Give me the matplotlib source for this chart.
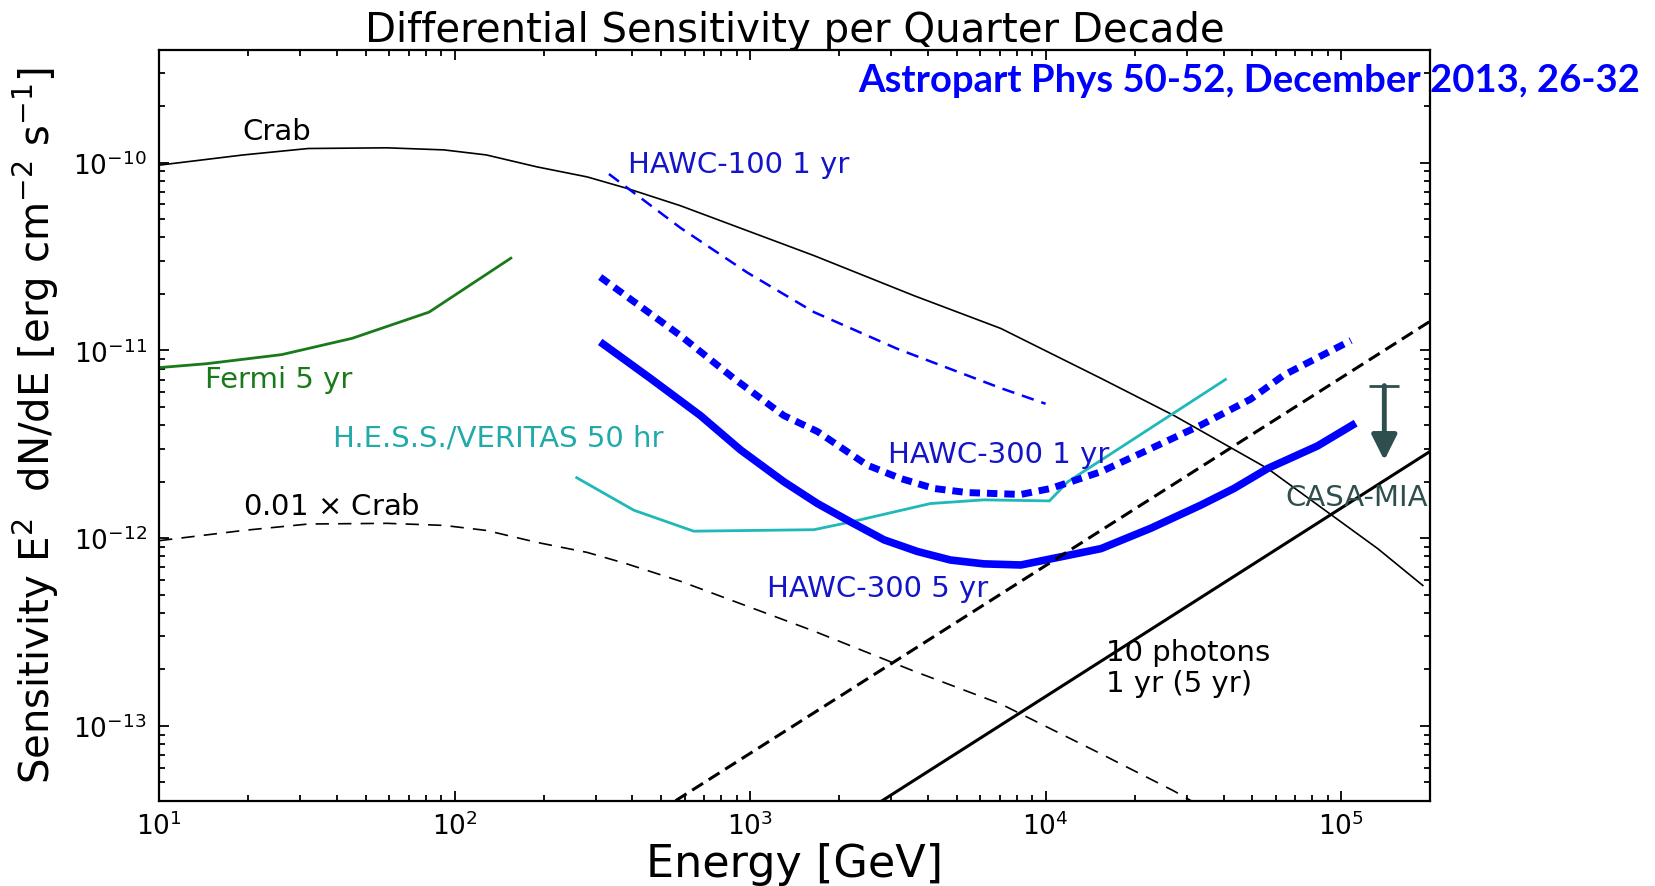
import matplotlib
matplotlib.use('Agg')
import matplotlib.pyplot as plt

# Crab spectrum (E in GeV, E^2 dN/dE in erg cm^-2 s^-1)
crab_E = [10, 19.3, 32, 59, 92, 128, 190, 281, 383, 581, 1645, 3580, 7050,
          15400, 27200, 56400, 133000, 189000]
crab_S = [9.7e-11, 1.10e-10, 1.19e-10, 1.20e-10, 1.17e-10, 1.10e-10, 9.5e-11,
          8.4e-11, 7.3e-11, 5.9e-11, 3.2e-11, 1.96e-11, 1.31e-11, 7.1e-12,
          4.5e-12, 2.35e-12, 8.8e-13, 5.6e-13]
crab01_S = [9.7e-13, 1.10e-12, 1.19e-12, 1.20e-12, 1.17e-12, 1.10e-12, 9.5e-13,
            8.4e-13, 7.3e-13, 5.9e-13, 3.2e-13, 1.96e-13, 1.31e-13, 7.1e-14,
            4.5e-14, 2.35e-14, 8.8e-15, 5.6e-15]

fermi_E = [10, 14.5, 26, 45, 82, 155]
fermi_S = [8.1e-12, 8.5e-12, 9.5e-12, 1.16e-11, 1.6e-11, 3.1e-11]

hess_E = [259, 404, 644, 1645, 2190, 4080, 6180, 10300, 11900, 40600]
hess_S = [2.1e-12, 1.41e-12, 1.09e-12, 1.11e-12, 1.22e-12, 1.53e-12, 1.6e-12,
          1.58e-12, 2.0e-12, 7.0e-12]

h100_E = [333, 581, 978, 1645, 3150, 7050, 10000]
h100_S = [8.7e-11, 4.5e-11, 2.6e-11, 1.6e-11, 1.02e-11, 6.3e-12, 5.2e-12]

h300_1_E = [311, 581, 881, 1300, 1690, 2490, 3230, 4190, 5430, 8250, 10400,
            15400, 22700, 33500, 49400, 64100, 108000]
h300_1_S = [2.46e-11, 1.2e-11, 7.1e-12, 4.5e-12, 3.7e-12, 2.45e-12, 2.08e-12,
            1.84e-12, 1.75e-12, 1.71e-12, 1.84e-12, 2.26e-12, 3.0e-12, 4.0e-12,
            5.5e-12, 7.4e-12, 1.13e-11]

h300_5_E = [311, 460, 679, 929, 1300, 1690, 2190, 2840, 3680, 4770, 6180, 8250,
            15400, 22700, 33500, 43400, 56400, 83200, 112000]
h300_5_S = [1.11e-11, 7.1e-12, 4.5e-12, 2.95e-12, 2.0e-12, 1.53e-12, 1.22e-12,
            9.8e-13, 8.5e-13, 7.65e-13, 7.3e-13, 7.2e-13, 8.8e-13, 1.13e-12,
            1.5e-12, 1.84e-12, 2.35e-12, 3.1e-12, 4.1e-12]

# 10 photons lines
ph5_E = [560, 2.0e5]
ph5_S = [4.0e-14, 1.43e-11]
ph1_E = [2800, 2.0e5]
ph1_S = [4.0e-14, 2.9e-12]

# CASA-MIA upper limit
casa_E = 1.4e5
casa_top = 6.5e-12
casa_tip = 2.6e-12

x_ticks = [1e1, 1e2, 1e3, 1e4, 1e5]
y_ticks = [1e-13, 1e-12, 1e-11, 1e-10]

fig = plt.figure(figsize=(16.55, 8.87), dpi=100)
ax = fig.add_axes([0.0961, 0.0962, 0.768, 0.8467])

ax.plot(crab_E, crab_S, color='k', lw=1.2)
ax.plot(crab_E, crab01_S, color='k', lw=1.2, ls=(0, (8, 5.5)))
ax.plot(fermi_E, fermi_S, color='#1a7a1a', lw=2)
ax.plot(hess_E, hess_S, color='#20b8b8', lw=2)
ax.plot(h100_E, h100_S, color='blue', lw=1.8, ls=(0, (5, 3.2)))
ax.plot(h300_1_E, h300_1_S, color='blue', lw=5, ls=(0, (1.5, 1.0)))
ax.plot(h300_5_E, h300_5_S, color='blue', lw=5.5, solid_capstyle='butt')
ax.plot(ph5_E, ph5_S, color='k', lw=2.2, ls=(0, (4.2, 2.2)))
ax.plot(ph1_E, ph1_S, color='k', lw=2.2)

# CASA-MIA arrow with cap
ax.plot([casa_E], [casa_top], marker='_', ms=22, mew=2, color='#2f4f4f')
ax.annotate('', xy=(casa_E, casa_tip), xytext=(casa_E, casa_top),
            arrowprops=dict(arrowstyle='-|>,head_length=0.7,head_width=0.35',
                            color='#2f4f4f', lw=3.5, mutation_scale=22,
                            shrinkA=0, shrinkB=0))

fs = 21
txt_blue = '#1414c8'
ax.text(19.2, 1.33e-10, 'Crab', fontsize=fs, va='baseline')
ax.text(385, 8.9e-11, 'HAWC-100 1 yr', fontsize=fs, va='baseline', color=txt_blue)
ax.text(14.3, 6.35e-12, 'Fermi 5 yr', fontsize=fs, va='baseline', color='#1a7a1a')
ax.text(38.8, 3.13e-12, 'H.E.S.S./VERITAS 50 hr', fontsize=fs, va='baseline',
        color='#22aaaa')
ax.text(19.2, 1.35e-12, r'0.01 $\times$ Crab', fontsize=fs, va='baseline')
ax.text(2940, 2.56e-12, 'HAWC-300 1 yr', fontsize=fs, va='baseline', color=txt_blue)
ax.text(1143, 4.9e-13, 'HAWC-300 5 yr', fontsize=fs, va='baseline', color=txt_blue)
ax.text(16000, 1.53e-13, '10 photons\n1 yr (5 yr)', fontsize=fs, va='baseline',
        linespacing=1.15)
ax.text(1.97e5, 1.5e-12, 'CASA-MIA', fontsize=fs, va='baseline', ha='right',
        color='#2f4f4f')

ax.set_xscale('log')
ax.set_yscale('log')
ax.set_xticks(x_ticks)
ax.set_yticks(y_ticks)
ax.set_xlim(10, 2e5)
ax.set_ylim(4e-14, 4e-10)

ax.tick_params(which='both', direction='in', top=True, right=True, width=1.3)
ax.tick_params(which='major', length=7, labelsize=19)
ax.tick_params(which='minor', length=4)
ax.tick_params(axis='y', pad=9)
ax.tick_params(axis='x', pad=8)
for sp in ax.spines.values():
    sp.set_linewidth(1.6)

ax.set_xlabel('Energy [GeV]', fontsize=32, labelpad=1)
ax.set_ylabel(r'Sensitivity E$^2$  dN/dE [erg cm$^{-2}$ s$^{-1}$]', fontsize=29,
              labelpad=9)
ax.set_title('Differential Sensitivity per Quarter Decade', fontsize=29, pad=6)

fig.text(1640 / 1655, 1 - 92 / 887, 'Astropart Phys 50-52, December 2013, 26-32',
         ha='right', va='baseline', color='blue', fontweight='bold', fontsize=27.5,
         family=['Liberation Sans Narrow', 'Lato', 'DejaVu Sans'])

fig.savefig('out.png', dpi=100)
